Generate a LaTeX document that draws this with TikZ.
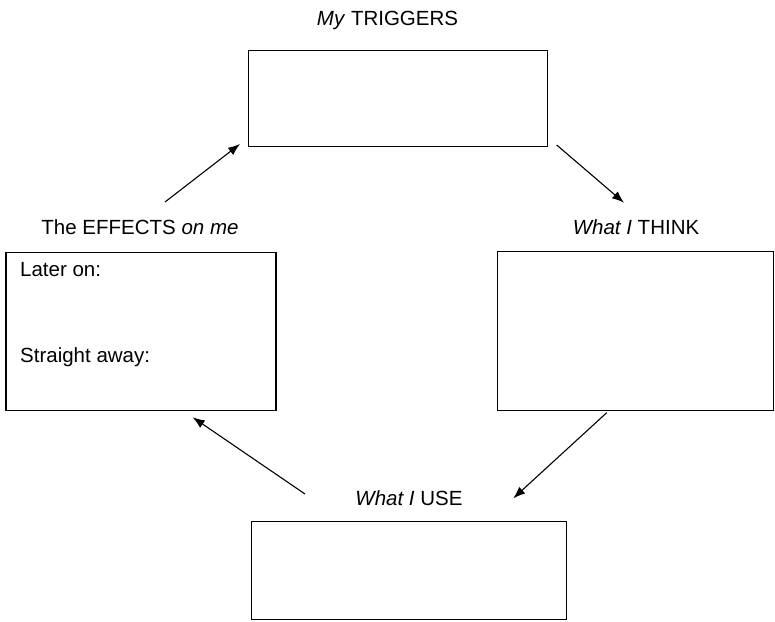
\documentclass[tikz,border=0pt]{standalone}
\usepackage{fontspec}
\setmainfont{Liberation Sans}
\usetikzlibrary{arrows.meta,positioning,calc}

\begin{document}
\begin{tikzpicture}[x=1pt,y=-1pt,>={Latex[length=12pt,width=9pt]}, every node/.style={font=\fontsize{20.5}{24}\selectfont}]
\tikzstyle{box}=[draw, line width=1.2pt, inner sep=0pt]
\tikzstyle{lbl}=[anchor=base, inner sep=0pt]
\tikzstyle{link}=[->, line width=1.1pt]
\useasboundingbox (0,0) rectangle (775,621);
% the four boxes of the cycle
\node[box, minimum width=299pt, minimum height=96pt] (trig) at (398,98.7) {};
\node[box, minimum width=270pt, minimum height=158pt] (effects) at (141,331.5) {};
\node[box, minimum width=276pt, minimum height=159pt] (think) at (635.5,331.3) {};
\node[box, minimum width=315pt, minimum height=98pt] (use) at (409.2,570.8) {};
% headings
\node[lbl] (trigcap) at (387.5,25) {\textit{My} TRIGGERS};
\node[lbl] (effcap) at (140,234) {The EFFECTS \textit{on me}};
\node[lbl] (thinkcap) at (636,234) {\textit{What I} THINK};
\node[lbl] (usecap) at (409,505) {\textit{What I} USE};
\node[anchor=base west, inner sep=0pt] (later) at (20,276.7) {Later on:};
\node[anchor=base west, inner sep=0pt] (straight) at (20,362) {Straight away:};
% arrow ends
\coordinate (e1) at (165,202); \coordinate (t1) at (240,144);
\coordinate (t2) at (556.7,145); \coordinate (h2) at (624,202.7);
\coordinate (h3) at (606.7,412.7); \coordinate (u3) at (513.3,498.3);
\coordinate (u4) at (305,494); \coordinate (e4) at (192.7,417.3);
\draw[link] (e1) -- (t1); \draw[link] (t2) -- (h2); \draw[link] (h3) -- (u3); \draw[link] (u4) -- (e4);
\end{tikzpicture}
\end{document}
